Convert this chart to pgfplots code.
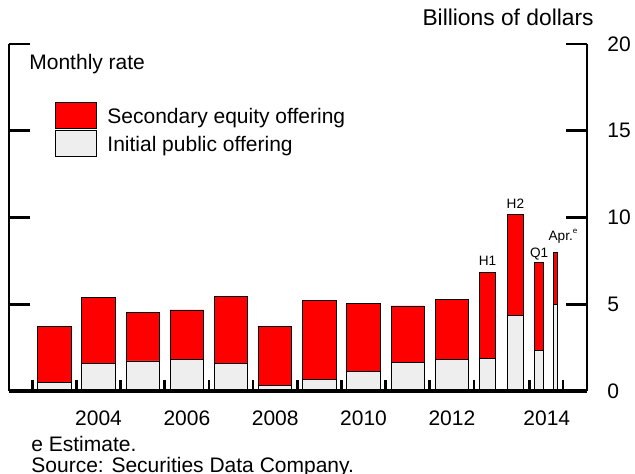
\documentclass[border=0pt]{standalone}
\usepackage{fontspec}
\setmainfont{Liberation Sans}
\usepackage{pgfplots}
\pgfplotsset{compat=1.18}
\definecolor{ipogray}{RGB}{238,238,238}
\definecolor{secred}{RGB}{255,0,0}
\begin{document}
\begin{tikzpicture}[font=\fontsize{10.5}{12.6}\selectfont]
\useasboundingbox (0,0) rectangle (317.5pt,237pt);
\begin{axis}[
  at={(4.5pt,41.5pt)}, anchor=south west,
  scale only axis, width=289pt, height=173.5pt,
  xmin=-0.5275, xmax=12.56, ymin=0, ymax=20,
  clip=false,
  axis line style={draw=none},
  tick align=inside,
  /pgf/number format/assume math mode=true,
  ticklabel style={font=\fontsize{10.5}{12.6}\selectfont},
  major tick length=5.3pt,
  xtick={0,1,2,3,4,5,6,7,8,9,10,11.26,12.02},
  xticklabels={},
  xtick pos=left,
  x tick style={line width=1.3pt, black},
  extra x ticks={1.5,3.5,5.5,7.5,9.5,11.65},
  extra x tick labels={2004,2006,2008,2010,2012,2014},
  extra x tick style={tick style={draw=none}},
  xticklabel style={inner sep=0pt, anchor=north, yshift=-9.6pt},
  ytick=\empty,
  extra y ticks={0,5,10,15,20},
  extra y tick style={major tick length=10.5pt, tick style={line width=1.3pt, black}},
  ytick pos=both,
  yticklabel pos=right,
  yticklabel style={anchor=west, inner sep=0pt, xshift=10pt},
  legend style={draw=none, fill=none, at={(0.0796,0.8337)}, anchor=north west,
    inner sep=0pt, outer sep=0pt, row sep=0.8pt, column sep=5.3pt,
    nodes={inner sep=0pt}, font=\fontsize{10.5}{12.6}\selectfont},
  legend cell align=left,
]
\addlegendimage{legend image code/.code={\draw[fill=secred,draw=black,line width=0.4pt] (0pt,-5.5pt) rectangle (20.5pt,7.5pt);}}
\addlegendentry{Secondary equity offering}
\addlegendimage{legend image code/.code={\draw[fill=ipogray,draw=black,line width=0.4pt] (0pt,-5.5pt) rectangle (20.5pt,7.5pt);}}
\addlegendentry{Initial public offering}

% Annual bars 2003-2012: total (secondary + IPO) drawn red, IPO drawn grey over it
\addplot[ybar, bar shift=0pt, bar width=0.755, fill=secred, draw=black, line width=0.45pt, forget plot]
  coordinates {(0.5,3.71) (1.5,5.38) (2.5,4.55) (3.5,4.67) (4.5,5.46) (5.5,3.71) (6.5,5.24) (7.5,5.07) (8.5,4.90) (9.5,5.28)};
\addplot[ybar, bar shift=0pt, bar width=0.755, fill=ipogray, draw=black, line width=0.45pt, forget plot]
  coordinates {(0.5,0.48) (1.5,1.56) (2.5,1.73) (3.5,1.79) (4.5,1.60) (5.5,0.31) (6.5,0.67) (7.5,1.11) (8.5,1.67) (9.5,1.83)};
% 2013 H1, H2
\addplot[ybar, bar shift=0pt, bar width=0.375, fill=secred, draw=black, line width=0.45pt, forget plot]
  coordinates {(10.309,6.82) (10.939,10.18)};
\addplot[ybar, bar shift=0pt, bar width=0.375, fill=ipogray, draw=black, line width=0.45pt, forget plot]
  coordinates {(10.309,1.88) (10.939,4.34)};
% 2014 Q1
\addplot[ybar, bar shift=0pt, bar width=0.204, fill=secred, draw=black, line width=0.45pt, forget plot]
  coordinates {(11.476,7.43)};
\addplot[ybar, bar shift=0pt, bar width=0.204, fill=ipogray, draw=black, line width=0.45pt, forget plot]
  coordinates {(11.476,2.34)};
% 2014 April
\addplot[ybar, bar shift=0pt, bar width=0.09, fill=secred, draw=black, line width=0.45pt, forget plot]
  coordinates {(11.856,7.99)};
\addplot[ybar, bar shift=0pt, bar width=0.09, fill=ipogray, draw=black, line width=0.45pt, forget plot]
  coordinates {(11.856,5.00)};

% frame
\draw[line width=1.35pt] (rel axis cs:0,1) -- (rel axis cs:0,0);
\draw[line width=1.35pt] (rel axis cs:1,1) -- (rel axis cs:1,0);
\draw[line width=1.65pt] (rel axis cs:0,0) -- (rel axis cs:1,0);

% period labels
\node[font=\fontsize{6.8}{8}\selectfont, anchor=base] at (axis cs:10.309,7.22) {H1};
\node[font=\fontsize{6.8}{8}\selectfont, anchor=base] at (axis cs:10.939,10.49) {H2};
\node[font=\fontsize{6.8}{8}\selectfont, anchor=base] at (axis cs:11.478,7.71) {Q1};
\node[font=\fontsize{6.8}{8}\selectfont, anchor=base west, inner sep=0pt] at (axis cs:11.682,8.70) {Apr.\raisebox{0.45em}{\fontsize{4}{4}\selectfont e}};
\end{axis}
\node[anchor=base east, inner sep=0pt, font=\fontsize{11.4}{13.7}\selectfont] at (297pt,224.15pt) {Billions of dollars};
\node[anchor=base west, inner sep=0pt] at (14.5pt,202pt) {Monthly rate};
\node[anchor=base west, inner sep=0pt] at (15.5pt,11pt) {e Estimate.};
\node[anchor=base west, inner sep=0pt] at (15.5pt,0.9pt) {Source: Securities Data Company.};
\end{tikzpicture}
\end{document}
